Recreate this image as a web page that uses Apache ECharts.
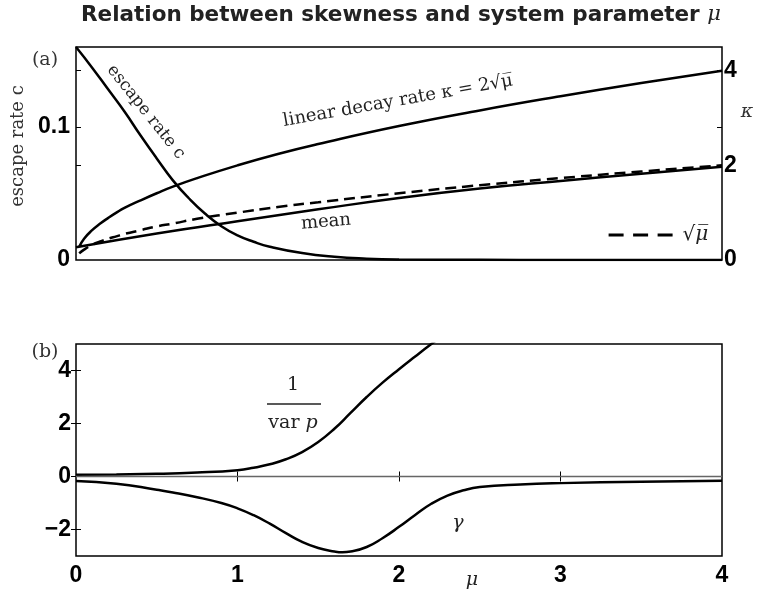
<!DOCTYPE html>
<html>
<head>
<meta charset="utf-8">
<script src="https://cdn.jsdelivr.net/npm/echarts@6/dist/echarts.min.js"></script>
<style>
  html, body { margin: 0; padding: 0; background: #fff; }
  #main { width: 757px; height: 596px; }
</style>
</head>
<body>
<div id="main"></div>
<script>
// panel (a): escape rate c (left axis) and kappa-type curves (right axis)
var cMu = [0, 0.1, 0.2, 0.3, 0.4, 0.5, 0.6, 0.7, 0.8, 0.9, 1.0, 1.1, 1.2, 1.4, 1.6, 1.8, 2.0, 2.5, 3, 3.5, 4];
var cVals = [0.160, 0.1445, 0.128, 0.1115, 0.0935, 0.0763, 0.0598, 0.0462, 0.0347, 0.0254, 0.0185, 0.0137, 0.0100, 0.0052, 0.0024, 0.0010, 0.0004, 0.0001, 0, 0, 0];

var kMu = [0.02, 0.05, 0.1, 0.15, 0.2, 0.25, 0.3, 0.4, 0.5, 0.6, 0.75, 1, 1.25, 1.5, 2, 2.5, 3, 3.5, 4];
var kappaVals = [0.28, 0.45, 0.63, 0.77, 0.89, 1.0, 1.10, 1.26, 1.41, 1.55, 1.73, 2.0, 2.24, 2.45, 2.83, 3.16, 3.46, 3.74, 4.0];
var sqrtVals = [0.14, 0.22, 0.32, 0.39, 0.45, 0.5, 0.55, 0.63, 0.71, 0.77, 0.87, 1.0, 1.12, 1.22, 1.41, 1.58, 1.73, 1.87, 2.0];

var meanMu = [0, 0.5, 1, 1.5, 2, 2.5, 3, 3.5, 4];
var meanVals = [0.27, 0.56, 0.82, 1.07, 1.31, 1.51, 1.67, 1.82, 1.97];

// panel (b): 1/var p and skewness gamma
var vMu = [0, 0.25, 0.5, 0.75, 1.0, 1.1, 1.2, 1.3, 1.4, 1.5, 1.6, 1.7, 1.8, 1.9, 2.0, 2.1, 2.2, 2.3];
var invVarVals = [0.07, 0.08, 0.10, 0.15, 0.24, 0.33, 0.46, 0.65, 0.92, 1.3, 1.8, 2.4, 3.0, 3.55, 4.05, 4.53, 5.0, 5.45];

var gMu = [0, 0.25, 0.5, 0.6, 0.75, 0.9, 1.0, 1.1, 1.2, 1.3, 1.4, 1.5, 1.6, 1.65, 1.7, 1.8, 1.9, 2.0, 2.1, 2.2, 2.3, 2.4, 2.5, 2.75, 3, 3.5, 4];
var gammaVals = [-0.17, -0.27, -0.5, -0.6, -0.78, -1.0, -1.2, -1.46, -1.78, -2.14, -2.47, -2.7, -2.83, -2.86, -2.83, -2.66, -2.32, -1.9, -1.45, -1.03, -0.72, -0.52, -0.4, -0.3, -0.25, -0.2, -0.16];

// tick labels
var muTicks = [0, 1, 2, 3, 4];
var cTicks = [0, 0.1];
var kappaTicks = [0, 2, 4];
var bTicks = [-2, 0, 2, 4];

function pairs(xs, ys) {
  return xs.map(function (x, i) { return [x, ys[i]]; });
}

var serif = "'DejaVu Serif', serif";
var tickFont = {
  fontFamily: "'Liberation Sans Narrow', 'Liberation Sans', Arial, sans-serif", fontWeight: 'bold', fontSize: 23, color: '#000',
  formatter: function (v) { return String(v).replace('-', '\u2212'); }
};
var tickLine = { color: '#000', width: 1 };

function yAx(grid, pos, min, max, ticks, labels, margin) {
  return {
    type: 'value', gridIndex: grid, position: pos, min: min, max: max,
    axisLine: { show: false },
    splitLine: { show: false },
    axisTick: { show: ticks.length > 0, inside: true, length: 5, customValues: ticks, lineStyle: tickLine },
    axisLabel: labels ? Object.assign({ show: true, customValues: labels, margin: margin }, tickFont) : { show: false }
  };
}

function curve(name, xi, yi, xs, ys, extra) {
  return Object.assign({
    name: name, type: 'line', xAxisIndex: xi, yAxisIndex: yi, symbol: 'none',
    smooth: 0.5,
    lineStyle: { color: '#000', width: 2.5 }, itemStyle: { color: '#000' },
    data: pairs(xs, ys)
  }, extra || {});
}

var chart = echarts.init(document.getElementById('main'), null, { renderer: 'canvas' });

var option = {
  animation: false,
  backgroundColor: '#fff',
  title: {
    text: 'Relation between skewness and system parameter {m|μ}',
    left: 76, top: -1,
    textStyle: {
      fontFamily: "'DejaVu Sans', sans-serif", fontWeight: 'bold', fontSize: 21.5, color: '#222',
      rich: { m: { fontFamily: serif, fontStyle: 'italic', fontWeight: 'normal', fontSize: 21, color: '#222' } }
    }
  },
  grid: [
    { left: 76, top: 47, width: 646, height: 213, show: true, borderColor: '#000', borderWidth: 1.5, containLabel: false },
    { left: 76, top: 344, width: 646, height: 212, show: true, borderColor: '#000', borderWidth: 1.5, containLabel: false }
  ],
  xAxis: [
    { type: 'value', gridIndex: 0, min: 0, max: 4, axisLine: { show: false }, axisTick: { show: false }, axisLabel: { show: false }, splitLine: { show: false } },
    {
      type: 'value', gridIndex: 1, position: 'bottom', min: 0, max: 4,
      axisLine: { show: false }, splitLine: { show: false },
      axisTick: { inside: true, length: 5, customValues: [1, 2, 3], lineStyle: tickLine },
      axisLabel: Object.assign({ customValues: muTicks, margin: 8 }, tickFont)
    },
    {
      type: 'value', gridIndex: 1, position: 'top', min: 0, max: 4,
      axisLine: { show: false }, splitLine: { show: false }, axisLabel: { show: false },
      axisTick: { inside: true, length: 5, customValues: [1, 2, 3], lineStyle: tickLine }
    }
  ],
  yAxis: [
    yAx(0, 'left', 0, 0.16, [0.1], cTicks, 6),
    yAx(0, 'right', 0, 4.5, [2, 4], kappaTicks, 2),
    yAx(0, 'right', 0, 0.16, [0.1], null),
    yAx(0, 'left', 0, 4.5, [2, 4], null),
    yAx(1, 'left', -3, 5, bTicks, bTicks, 5),
    yAx(1, 'right', -3, 5, bTicks, null)
  ],
  legend: {
    data: ['sqrt'],
    left: 602, top: 220,
    itemWidth: 64, itemHeight: 20, itemGap: 0,
    itemStyle: { opacity: 0 },
    lineStyle: { type: [15, 9.5], width: 3.2, color: '#000' },
    formatter: function () { return '{a|√}{m|μ̅}'; },
    textStyle: {
      fontFamily: serif, fontSize: 20, color: '#222', padding: [0, 0, 0, 5],
      rich: {
        a: { fontFamily: serif, fontSize: 20, color: '#222' },
        m: { fontFamily: serif, fontSize: 20, fontStyle: 'italic', color: '#222' }
      }
    }
  },
  series: [
    curve('c', 0, 0, cMu, cVals),
    curve('kappa', 0, 1, kMu, kappaVals),
    curve('sqrt', 0, 1, kMu, sqrtVals, { lineStyle: { color: '#000', width: 2.5, type: [11, 6] } }),
    curve('mean', 0, 1, meanMu, meanVals),
    curve('invVar', 1, 4, vMu, invVarVals),
    curve('gamma', 1, 4, gMu, gammaVals, {
      markLine: {
        silent: true, symbol: 'none', label: { show: false },
        lineStyle: { color: '#666', width: 1.3, type: 'solid' },
        data: [{ yAxis: 0 }]
      }
    })
  ],
  graphic: [
    { type: 'text', x: 45, y: 60, style: { text: '(a)', font: '19px ' + serif, fill: '#333', textAlign: 'center', textVerticalAlign: 'middle' } },
    { type: 'text', x: 45, y: 352, style: { text: '(b)', font: '19px ' + serif, fill: '#333', textAlign: 'center', textVerticalAlign: 'middle' } },
    { type: 'text', x: 18, y: 146, rotation: Math.PI / 2, style: { text: 'escape rate c', font: '18px ' + serif, fill: '#333', textAlign: 'center', textVerticalAlign: 'middle' } },
    { type: 'text', x: 747, y: 112, style: { text: 'κ', font: 'italic 19px ' + serif, fill: '#333', textAlign: 'center', textVerticalAlign: 'middle' } },
    { type: 'text', x: 146, y: 112, rotation: -0.9, style: { text: 'escape rate c', font: '17px ' + serif, fill: '#222', textAlign: 'center', textVerticalAlign: 'middle' } },
    { type: 'text', x: 398, y: 101, rotation: 0.175, style: { text: 'linear decay rate κ = 2√μ̅', font: '18px ' + serif, fill: '#222', textAlign: 'center', textVerticalAlign: 'middle' } },
    { type: 'text', x: 326, y: 222, rotation: 0.08, style: { text: 'mean', font: '18px ' + serif, fill: '#222', textAlign: 'center', textVerticalAlign: 'middle' } },
    { type: 'text', x: 293, y: 385, style: { text: '1', font: '19px ' + serif, fill: '#222', textAlign: 'center', textVerticalAlign: 'middle' } },
    { type: 'line', shape: { x1: 267, y1: 404, x2: 321, y2: 404 }, style: { stroke: '#222', lineWidth: 1.5 } },
    {
      type: 'text', x: 293, y: 423,
      style: {
        text: '{r|var }{i|p}', textAlign: 'center', textVerticalAlign: 'middle',
        rich: { r: { font: '19px ' + serif, fill: '#222' }, i: { font: 'italic 19px ' + serif, fill: '#222' } }
      }
    },
    { type: 'text', x: 458, y: 523, style: { text: 'γ', font: 'italic 19px ' + serif, fill: '#222', textAlign: 'center', textVerticalAlign: 'middle' } },
    { type: 'text', x: 472, y: 580, style: { text: 'μ', font: 'italic 19px ' + serif, fill: '#222', textAlign: 'center', textVerticalAlign: 'middle' } }
  ]
};

chart.setOption(option);
</script>
</body>
</html>
